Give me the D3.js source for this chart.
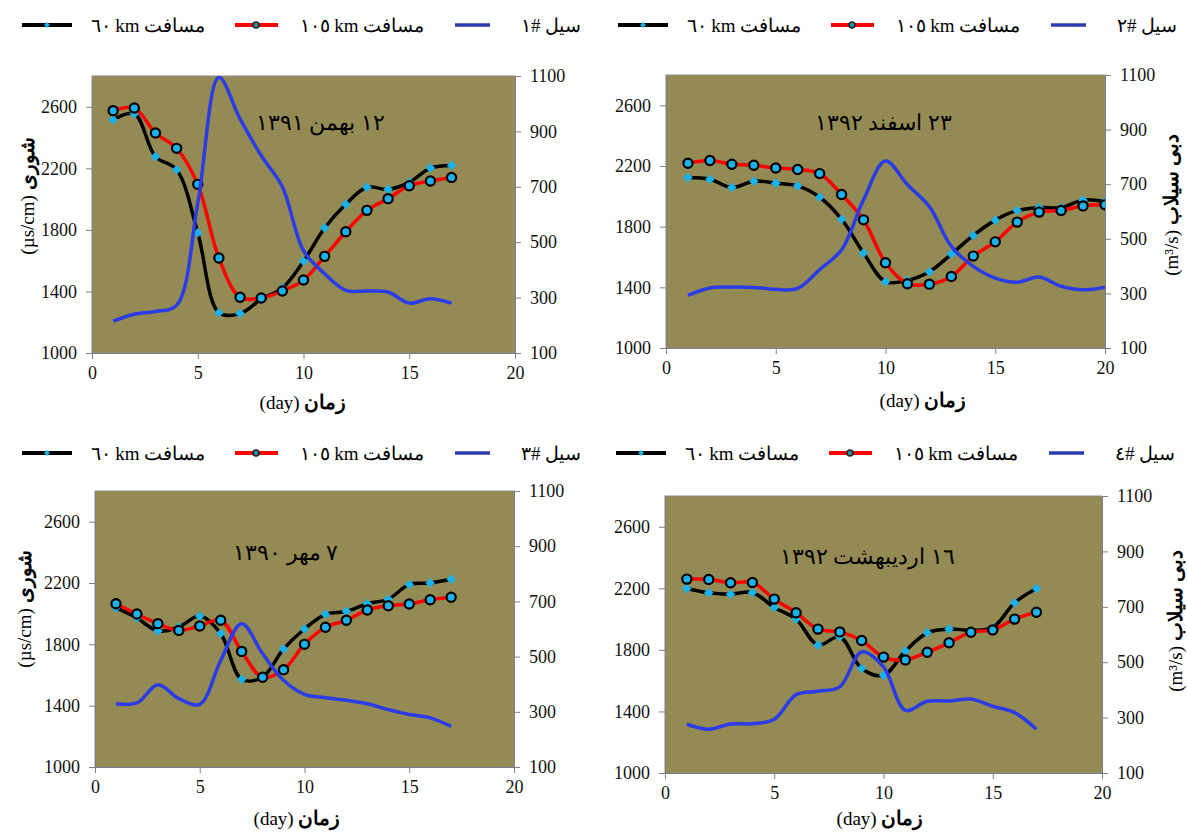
<!DOCTYPE html>
<html><head><meta charset="utf-8">
<script src="https://cdn.jsdelivr.net/npm/d3@7"></script>
<style>
body{margin:0;background:#fff}svg{display:block}
</style>
</head><body>
<svg id="c" width="1187" height="832"></svg>
<script>
// ---- data ----
const days17 = [1,2,3,4,5,6,7,8,9,10,11,12,13,14,15,16,17];
const days20 = [1,2,3,4,5,6,7,8,9,10,11,12,13,14,15,16,17,18,19,20];

const p1_60   = [2516,2555,2276,2191,1782,1262,1256,1350,1422,1596,1812,1966,2077,2063,2109,2202,2219];
const p1_105  = [2575,2592,2430,2330,2096,1617,1362,1357,1403,1474,1628,1788,1927,2003,2087,2118,2141];
const p1_flood= [215,240,250,272,640,1095,945,813,700,470,386,326,324,320,280,296,280];

const p2_60   = [2124,2113,2058,2100,2087,2069,1994,1849,1626,1437,1446,1503,1619,1742,1843,1907,1926,1926,1975,1966];
const p2_105  = [2218,2236,2212,2205,2187,2177,2150,2012,1845,1562,1424,1421,1472,1606,1700,1830,1896,1907,1937,1944];
const p2_flood= [293,320,323,322,315,318,387,460,643,785,698,618,472,399,356,341,360,326,313,323];

const p3_60   = [2039,1972,1887,1913,1985,1870,1572,1587,1770,1900,1996,2015,2065,2094,2191,2200,2224];
const p3_105  = [2065,1998,1935,1891,1920,1957,1754,1585,1635,1800,1911,1957,2024,2052,2063,2091,2107];
const p3_flood= [329,332,398,348,327,486,619,511,414,363,351,342,329,308,290,278,247];

const p4_60   = [2199,2171,2162,2173,2076,2000,1831,1885,1679,1635,1792,1911,1935,1928,1945,2106,2199];
const p4_105  = [2260,2258,2236,2238,2130,2041,1935,1917,1861,1753,1735,1785,1846,1915,1930,2000,2045];
const p4_flood= [276,258,277,278,294,383,395,411,537,483,326,359,360,367,341,318,258];

const salinityTicks = [1000,1400,1800,2200,2600];
const floodTicks = [100,300,500,700,900,1100];
const dayTicks = [0,5,10,15,20];

const titles = ["١٢ بهمن ١٣٩١","٢٣ اسفند ١٣٩٢","٧ مهر ١٣٩٠","١٦ اردیبهشت ١٣٩٢"];
const floodNames = ["سیل #١","سیل #٢","سیل #٣","سیل #٤"];
const name60 = "٦٠ km مسافت";
const name105 = "١٠٥ km مسافت";
const yLeftUnit = "(µs/cm) ", yLeftWord = "شوری";
const yRightUnit = "(m³/s) ", yRightWord = "دبی سیلاب";
const xUnit = "(day) ", xWord = "زمان";

// ---- style ----
const BG = "#948A54", BLACK = "#000", RED = "#FF0000", BLUE = "#2A3CE6", CYAN = "#19B2EC";
const FONT = "'Liberation Serif', 'Times New Roman', serif";

const panels = [
  {days:days17, a:p1_60, b:p1_105, f:p1_flood, title:titles[0], fname:floodNames[0],
   box:[92,515,76,353], left:true, legY:25, legDx:0, xl:[303,402], yl:[27,196], tpos:[10.8,2500]},
  {days:days20, a:p2_60, b:p2_105, f:p2_flood, title:titles[1], fname:floodNames[1],
   box:[666,1105,75,348], left:false, legY:25, legDx:596, xl:[923,400], yl:[1171,205], tpos:[9.9,2484]},
  {days:days17, a:p3_60, b:p3_105, f:p3_flood, title:titles[2], fname:floodNames[2],
   box:[95,514,491,767], left:true, legY:453, legDx:0, xl:[297,818], yl:[24,609], tpos:[9.1,2396]},
  {days:days17, a:p4_60, b:p4_105, f:p4_flood, title:titles[3], fname:floodNames[3],
   box:[665,1102,496,773], left:false, legY:453, legDx:594, xl:[880,818], yl:[1175,621], tpos:[9.25,2410]}
];

const svg = d3.select("#c").style("font-family",FONT);
svg.append("rect").attr("width",1187).attr("height",832).attr("fill","#fff");

panels.forEach((p,i)=>{
  const [x0,x1,y0,y1] = p.box;
  const x = d3.scaleLinear().domain([0,20]).range([x0,x1]);
  const y = d3.scaleLinear().domain([1000,2800]).range([y1,y0]);
  const y2 = d3.scaleLinear().domain([100,1100]).range([y1,y0]);
  const g = svg.append("g");

  g.append("rect").attr("x",x0).attr("y",y0).attr("width",x1-x0).attr("height",y1-y0)
    .attr("fill",BG).attr("stroke","#8c8c8c").attr("stroke-width",1);

  const clipId = "clip"+i;
  svg.append("clipPath").attr("id",clipId).append("rect")
    .attr("x",x0).attr("y",y0).attr("width",x1-x0).attr("height",y1-y0);

  function styleAxis(sel){
    sel.attr("font-family",null).attr("font-size",null);
    sel.selectAll("path,line").attr("stroke","#7f7f7f").attr("stroke-width",1);
    sel.selectAll("text").style("font-family",FONT).style("font-size","18px").attr("fill","#111");
  }
  g.append("g").attr("transform",`translate(${x0},0)`)
    .call(d3.axisLeft(y).tickValues(salinityTicks).tickFormat(d3.format("d")).tickSize(6).tickSizeOuter(0).tickPadding(9))
    .call(styleAxis);
  g.append("g").attr("transform",`translate(${x1},0)`)
    .call(d3.axisRight(y2).tickValues(floodTicks).tickFormat(d3.format("d")).tickSize(6).tickSizeOuter(0).tickPadding(9))
    .call(styleAxis);
  g.append("g").attr("transform",`translate(0,${y1})`)
    .call(d3.axisBottom(x).tickValues(dayTicks).tickFormat(d3.format("d")).tickSize(6).tickSizeOuter(0).tickPadding(7))
    .call(styleAxis);

  const curve = d3.curveCatmullRom.alpha(0.5);
  const plot = g.append("g").attr("clip-path",`url(#${clipId})`);
  const lineA = d3.line().x((d,k)=>x(p.days[k])).y(d=>y(d)).curve(curve);
  const lineF = d3.line().x((d,k)=>x(p.days[k])).y(d=>y2(d)).curve(curve);

  // 60 km series
  plot.append("path").attr("d",lineA(p.a)).attr("fill","none").attr("stroke",BLACK).attr("stroke-width",3.5);
  plot.selectAll(".dia").data(p.a).enter().append("path")
    .attr("d",d3.symbol().type(d3.symbolDiamond2).size(58))
    .attr("transform",(d,k)=>`translate(${x(p.days[k])},${y(d)})`)
    .attr("fill",CYAN);
  // 105 km series
  plot.append("path").attr("d",lineA(p.b)).attr("fill","none").attr("stroke",RED).attr("stroke-width",3.5);
  plot.selectAll(".cir").data(p.b).enter().append("circle")
    .attr("cx",(d,k)=>x(p.days[k])).attr("cy",d=>y(d)).attr("r",4.6)
    .attr("fill",CYAN).attr("stroke","#000").attr("stroke-width",2.2);
  // flood series (secondary axis)
  plot.append("path").attr("d",lineF(p.f)).attr("fill","none").attr("stroke",BLUE).attr("stroke-width",3.5);

  // title
  g.append("text").attr("x",x(p.tpos[0])).attr("y",y(p.tpos[1]))
    .attr("text-anchor","middle").attr("dominant-baseline","central")
    .style("font-family",FONT).style("font-size","22px").attr("fill","#000").text(p.title);

  // x axis label
  const xt = g.append("text").attr("x",p.xl[0]).attr("y",p.xl[1]).attr("text-anchor","middle")
    .attr("dominant-baseline","central").attr("direction","ltr").style("font-family",FONT);
  xt.append("tspan").style("font-size","19px").text(xUnit);
  xt.append("tspan").style("font-weight","bold").style("font-size","20px").text(xWord);

  // y axis label
  const unit = p.left ? yLeftUnit : yRightUnit;
  const word = p.left ? yLeftWord : yRightWord;
  const yt = g.append("text").attr("transform",`translate(${p.yl[0]},${p.yl[1]}) rotate(-90)`)
    .attr("text-anchor","middle").attr("dominant-baseline","central").attr("direction","ltr").style("font-family",FONT);
  yt.append("tspan").style("font-size","19px").text(unit);
  yt.append("tspan").style("font-weight","bold").style("font-size","20px").text(word);

  // legend
  const L = svg.append("g").attr("transform",`translate(${p.legDx},${p.legY})`).style("font-family",FONT);
  L.append("line").attr("x1",22).attr("x2",72).attr("y1",0).attr("y2",0).attr("stroke",BLACK).attr("stroke-width",4);
  L.append("path").attr("d",d3.symbol().type(d3.symbolDiamond2).size(22)).attr("transform","translate(47,0)").attr("fill",CYAN);
  L.append("text").attr("x",148).attr("y",0).attr("text-anchor","middle").attr("dominant-baseline","central")
    .attr("direction","ltr").style("font-size","19px").text(name60);
  L.append("line").attr("x1",235).attr("x2",278).attr("y1",0).attr("y2",0).attr("stroke",RED).attr("stroke-width",4);
  L.append("circle").attr("cx",256).attr("cy",0).attr("r",3).attr("fill","#1f8fa8").attr("stroke","#222").attr("stroke-width",1.5);
  L.append("text").attr("x",362).attr("y",0).attr("text-anchor","middle").attr("dominant-baseline","central")
    .attr("direction","ltr").style("font-size","19px").text(name105);
  L.append("line").attr("x1",455).attr("x2",490).attr("y1",0).attr("y2",0).attr("stroke","#2B3AB0").attr("stroke-width",3.5);
  L.append("text").attr("x",551).attr("y",0).attr("text-anchor","middle").attr("dominant-baseline","central")
    .style("font-size","19px").text(p.fname);
});
</script>
</body></html>
